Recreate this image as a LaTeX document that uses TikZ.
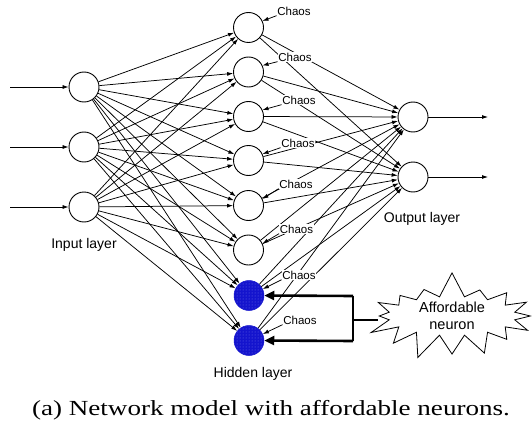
\documentclass[tikz,border=0pt]{standalone}
\usepackage{fontspec}
\setmainfont{Liberation Serif}
\setsansfont{Liberation Sans}
\usetikzlibrary{arrows.meta,shapes.symbols,patterns}
\definecolor{nblue}{RGB}{20,20,205}
\definecolor{nbluedot}{RGB}{110,110,235}
\begin{document}
\begin{tikzpicture}[x=1pt,y=-1pt,
  neuron/.style={circle,draw,line width=0.9pt,minimum size=30pt,inner sep=0pt},
  afford/.style={circle,minimum size=30pt,inner sep=0pt,draw=nblue,line width=0.5pt,
    preaction={fill=nblue},pattern=dots,pattern color=nbluedot},
  conn/.style={line width=0.75pt,-{Latex[length=6pt,width=4pt]}},
  chaos/.style={font=\sffamily\fontsize{11.5}{12}\selectfont,fill=white,inner sep=0.6pt},
  layerlab/.style={font=\sffamily\fontsize{14}{16}\selectfont},
  thickarrow/.style={line width=2.6pt,-{Triangle[length=10pt,width=9pt]}},
  thickline/.style={line width=2.6pt}
]
\useasboundingbox (0,0) rectangle (532,425);

% input layer
\node[neuron] (i1) at (84,87) {};
\node[neuron] (i2) at (84,147) {};
\node[neuron] (i3) at (84,207) {};
\coordinate (s1) at (10,87);
\coordinate (s2) at (10,147);
\coordinate (s3) at (10,207);

% hidden layer
\node[neuron] (h1) at (248.5,27.5) {};
\node[neuron] (h2) at (248.5,72) {};
\node[neuron] (h3) at (248.5,116.5) {};
\node[neuron] (h4) at (248.5,160.5) {};
\node[neuron] (h5) at (248.5,205.5) {};
\node[neuron] (h6) at (248.5,250) {};
\node[afford] (h7) at (249,295.5) {};
\node[afford] (h8) at (249,340.5) {};

% output layer
\node[neuron] (o1) at (413,117) {};
\node[neuron] (o2) at (413,177) {};
\coordinate (e1) at (488,117);
\coordinate (e2) at (488,177);

% input arrows
\foreach \k in {1,2,3} \draw[conn] (s\k) -- (i\k);
% output arrows
\foreach \k in {1,2} \draw[conn] (o\k) -- (e\k);

% input -> hidden
\foreach \i in {1,2,3}
  \foreach \h in {1,...,8}
    \draw[conn] (i\i) -- (h\h);

% hidden -> output
\foreach \h in {1,...,8}
  \foreach \o in {1,2}
    \draw[conn] (h\h) -- (o\o);

% chaos labels
\node[chaos] (c1) at (294,11) {Chaos};
\node[chaos] (c2) at (295,57) {Chaos};
\node[chaos] (c3) at (299,100) {Chaos};
\node[chaos] (c4) at (298,143) {Chaos};
\node[chaos] (c5) at (296,184) {Chaos};
\node[chaos] (c6) at (296.5,229) {Chaos};
\node[chaos] (c7) at (299,275) {Chaos};
\node[chaos] (c8) at (300,320) {Chaos};
\foreach \k in {1,...,8}
  \draw[conn] (c\k.195) -- (h\k.25);

% layer labels
\node[layerlab] (lin) at (84,245) {Input layer};
\node[layerlab] (lhid) at (253,374) {Hidden layer};
\node[layerlab] (lout) at (422,219) {Output layer};

% affordable neuron burst
\node[starburst,draw,line width=0.8pt,starburst points=16,starburst point height=26pt,
  random starburst=7,minimum width=180pt,minimum height=72pt,inner sep=0pt,
  align=center,font=\sffamily\fontsize{14.5}{17}\selectfont] (burst) at (452,316)
  {Affordable\\neuron};
\coordinate (j) at (353,320);
\coordinate (jt) at (353,296);
\coordinate (jb) at (353,341);
\draw[thickline] (burst.west |- j) -- (j);
\draw[thickline] (jt) -- (jb);
\draw[thickarrow] (jt) -- (h7.east);
\draw[thickarrow] (jb) -- (h8.east);

% caption
\node[anchor=base,font=\fontsize{21.5}{24}\selectfont] (cap) at (271,415)
  {\scalebox{1.26}[1]{(a) Network model with affordable neurons.}};
\end{tikzpicture}
\end{document}
